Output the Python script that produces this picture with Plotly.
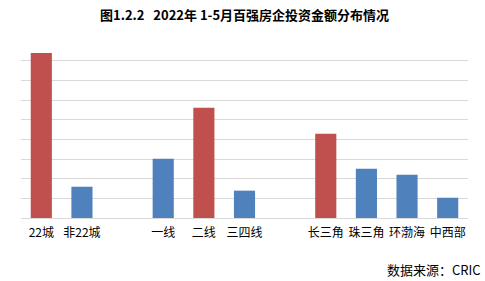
import plotly.graph_objects as go

categories = ["22城", "非22城", " ", "一线", "二线", "三四线", "  ", "长三角", "珠三角", "环渤海", "中西部"]
values = [8.39, 1.59, None, 3.01, 5.60, 1.39, None, 4.28, 2.50, 2.20, 1.03]
RED = "#C0504D"
BLUE = "#4F81BD"
bar_colors = [RED, BLUE, BLUE, BLUE, RED, BLUE, BLUE, RED, BLUE, BLUE, BLUE]

title_text = "<b>图1.2.2   2022年 1-5月百强房企投资金额分布情况</b>"
source_text = "数据来源：CRIC"

fig = go.Figure()
fig.add_trace(go.Bar(x=categories, y=values, marker=dict(color=bar_colors, line=dict(width=0)),
                     width=0.52, hoverinfo="skip"))

fig.update_layout(
    width=485, height=281,
    margin=dict(l=21, r=17, t=41, b=63),
    paper_bgcolor="white", plot_bgcolor="white",
    showlegend=False,
    font=dict(family="Noto Sans CJK SC", color="#000000"),
    xaxis=dict(type="category", categoryorder="array", categoryarray=categories,
               showgrid=False, showline=True, linecolor="#D9D9D9", linewidth=1,
               ticks="", tickfont=dict(size=12, color="#000"), ticklabelstandoff=4),
    yaxis=dict(range=[0, 9], dtick=1, showticklabels=False, showgrid=True,
               gridcolor="#D9D9D9", gridwidth=1, zeroline=False, showline=False),
    annotations=[
        dict(text=title_text, xref="paper", yref="paper", x=0.5, y=1, yshift=27,
             xanchor="center", yanchor="middle", showarrow=False,
             font=dict(size=13, family="Noto Sans CJK SC", color="#000")),
        dict(text=source_text, xref="paper", yref="paper", x=1, xshift=15, y=0, yshift=-51,
             xanchor="right", yanchor="middle", showarrow=False,
             font=dict(size=13, family="Noto Sans CJK SC", color="#000")),
    ],
)

fig.write_html("out.html")
